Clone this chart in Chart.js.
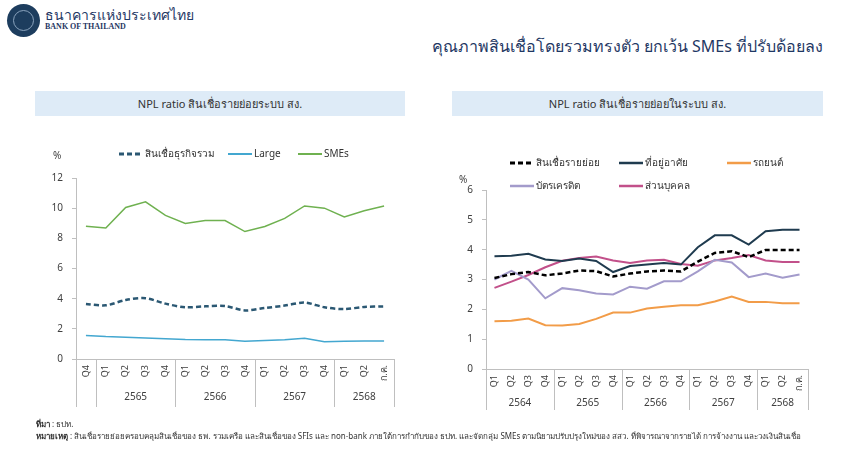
<!DOCTYPE html>
<html>
<head>
<meta charset="utf-8">
<script src="https://cdn.jsdelivr.net/npm/chart.js@4.4.1/dist/chart.umd.min.js"></script>
<style>
body { margin:0; width:860px; height:456px; background:#fff; position:relative; overflow:hidden; font-family:"Noto Sans","DejaVu Sans",sans-serif; color:#333; }
.logo { position:absolute; left:7px; top:4px; width:33px; height:33px; border-radius:50%; background:#1d3d5e; }
.logo div { position:absolute; left:6px; top:6px; width:19px; height:19px; border-radius:50%; border:1px solid #8aa3bd; }
.bot-th { position:absolute; left:45px; top:4px; font-size:14px; color:#1f3864; }
.bot-en { position:absolute; left:45px; top:22px; font-size:8px; font-weight:bold; color:#1f3864; font-family:"Liberation Serif",serif; }
.title { position:absolute; right:37px; top:34px; font-size:16px; color:#1f3864; }
.panel { position:absolute; top:91px; height:25px; line-height:25px; background:#deebf7; text-align:center; font-size:11px; color:#333; }
canvas { position:absolute; }
.note { position:absolute; left:36px; font-size:8px; color:#333; white-space:nowrap; }
</style>
</head>
<body>
<div class="logo"><div></div></div>
<div class="bot-th">ธนาคารแห่งประเทศไทย</div>
<div class="bot-en">BANK OF THAILAND</div>
<div class="title">คุณภาพสินเชื่อโดยรวมทรงตัว ยกเว้น SMEs ที่ปรับด้อยลง</div>
<div class="panel" style="left:35px;width:370px;">NPL ratio สินเชื่อรายย่อยระบบ สง.</div>
<div class="panel" style="left:452px;width:371px;">NPL ratio สินเชื่อรายย่อยในระบบ สง.</div>
<canvas id="leftChart" style="left:0;top:130px;"></canvas>
<canvas id="rightChart" style="left:430px;top:130px;"></canvas>
<div class="note" style="top:418px;"><b>ที่มา</b> : ธปท.</div>
<div class="note" style="top:430px;"><b>หมายเหตุ</b> : สินเชื่อรายย่อยครอบคลุมสินเชื่อของ ธพ. รวมเครือ และสินเชื่อของ SFIs และ non-bank ภายใต้การกำกับของ ธปท. และจัดกลุ่ม SMEs ตามนิยามปรับปรุงใหม่ของ สสว. ที่พิจารณาจากรายได้ การจ้างงาน และวงเงินสินเชื่อ</div>
<script>
// left chart: business loans
var leftQuarters = ['Q4','Q1','Q2','Q3','Q4','Q1','Q2','Q3','Q4','Q1','Q2','Q3','Q4','Q1','Q2','ก.ค.'];
var leftYears = ['','2565','2565','2565','2565','2566','2566','2566','2566','2567','2567','2567','2567','2568','2568','2568'];
var bizTotal = [3.65,3.56,3.91,4.03,3.67,3.43,3.49,3.51,3.22,3.38,3.54,3.74,3.43,3.31,3.45,3.49];
var bizLarge = [1.56,1.49,1.45,1.40,1.34,1.29,1.27,1.27,1.18,1.23,1.27,1.38,1.14,1.18,1.20,1.20];
var bizSME = [8.80,8.68,10.05,10.42,9.52,8.98,9.18,9.18,8.45,8.78,9.32,10.15,10.00,9.42,9.83,10.15];
var leftTicks = [0,2,4,6,8,10,12];

// right chart: retail loans
var rightQuarters = ['Q1','Q2','Q3','Q4','Q1','Q2','Q3','Q4','Q1','Q2','Q3','Q4','Q1','Q2','Q3','Q4','Q1','Q2','ก.ค.'];
var rightYears = ['2564','2564','2564','2564','2565','2565','2565','2565','2566','2566','2566','2566','2567','2567','2567','2567','2568','2568','2568'];
var retailTotal = [3.05,3.18,3.25,3.14,3.20,3.30,3.28,3.10,3.20,3.27,3.30,3.27,3.60,3.89,3.95,3.75,3.99,3.99,3.99];
var housing = [3.78,3.80,3.86,3.67,3.62,3.70,3.62,3.25,3.45,3.50,3.55,3.50,4.08,4.48,4.48,4.17,4.62,4.67,4.67];
var auto = [1.60,1.62,1.69,1.47,1.46,1.51,1.68,1.89,1.89,2.03,2.09,2.14,2.14,2.26,2.43,2.25,2.25,2.20,2.20];
var creditCard = [3.00,3.29,3.00,2.37,2.71,2.64,2.53,2.50,2.76,2.69,2.94,2.94,3.27,3.66,3.57,3.08,3.20,3.06,3.17];
var personal = [2.72,2.93,3.15,3.41,3.63,3.72,3.77,3.64,3.55,3.64,3.66,3.52,3.46,3.64,3.72,3.82,3.64,3.59,3.59];
var rightTicks = [0,1,2,3,4,5,6];

var FONT = '"Noto Sans","DejaVu Sans",sans-serif';
var GRID = '#bfbfbf';

// year rows under the quarter labels, plus the separators
var groupAxis = {
  id: 'groupAxis',
  afterDraw: function(chart, args, opts) {
    var ctx = chart.ctx, x = chart.scales.x, area = chart.chartArea;
    var years = opts.years;
    var half = (x.getPixelForValue(1) - x.getPixelForValue(0)) / 2;
    ctx.save();
    ctx.strokeStyle = GRID;
    ctx.lineWidth = 1;
    ctx.fillStyle = '#404040';
    ctx.font = '10px ' + FONT;
    ctx.textAlign = 'center';
    ctx.textBaseline = 'middle';
    var start = 0;
    for (var i = 1; i <= years.length; i++) {
      if (i === years.length || years[i] !== years[start]) {
        var l = x.getPixelForValue(start) - half;
        var r = x.getPixelForValue(i - 1) + half;
        ctx.beginPath();
        ctx.moveTo(Math.round(l) + 0.5, area.bottom);
        ctx.lineTo(Math.round(l) + 0.5, opts.lineEnd);
        ctx.moveTo(Math.round(r) + 0.5, area.bottom);
        ctx.lineTo(Math.round(r) + 0.5, opts.lineEnd);
        ctx.stroke();
        if (years[start]) ctx.fillText(years[start], (l + r) / 2, opts.textY);
        start = i;
      }
    }
    // unit label
    ctx.textAlign = 'left';
    ctx.fillText('%', opts.unit.x, opts.unit.y);
    ctx.restore();
  }
};

// legend with line samples placed like the original
var lineLegend = {
  id: 'lineLegend',
  afterDraw: function(chart, args, opts) {
    var ctx = chart.ctx;
    ctx.save();
    ctx.font = '10px ' + FONT;
    ctx.textBaseline = 'middle';
    ctx.fillStyle = '#333';
    chart.data.datasets.forEach(function(ds, i) {
      var p = opts.items[i];
      ctx.strokeStyle = ds.borderColor;
      ctx.lineWidth = ds.borderWidth + 0.5;
      ctx.setLineDash(ds.borderDash || []);
      ctx.beginPath();
      ctx.moveTo(p.x, p.y);
      ctx.lineTo(p.x + opts.len, p.y);
      ctx.stroke();
      ctx.fillText(ds.label, p.x + opts.len + 2, p.y);
    });
    ctx.restore();
  }
};

function lineSet(label, data, color, dash, width, tension) {
  return { label: label, data: data, borderColor: color, backgroundColor: color,
           borderWidth: width, borderDash: dash, pointRadius: 0, tension: tension, fill: false };
}

function axes(maxY, step, yWidth, xHeight) {
  return {
    x: {
      offset: true,
      grid: { display: false, drawTicks: false },
      border: { display: true, color: GRID },
      ticks: { autoSkip: false, minRotation: 90, maxRotation: 90, padding: 6, color: '#404040', font: { size: 9, family: FONT } },
      afterFit: function(s) { s.height = xHeight; }
    },
    y: {
      min: 0, max: maxY,
      grid: { drawOnChartArea: false, drawTicks: true, tickLength: 4, color: GRID },
      border: { display: true, color: GRID },
      ticks: { stepSize: step, padding: 9, color: '#404040', font: { size: 10, family: FONT } },
      afterFit: function(s) { s.width = yWidth; }
    }
  };
}

var leftCanvas = document.getElementById('leftChart');
leftCanvas.width = 430; leftCanvas.height = 290;
new Chart(leftCanvas.getContext('2d'), {
  type: 'line',
  data: {
    labels: leftQuarters,
    datasets: [
      lineSet('สินเชื่อธุรกิจรวม', bizTotal, '#2b5873', [5, 3], 2.5, 0.3),
      lineSet('Large', bizLarge, '#43a7d0', [], 1.5, 0),
      lineSet('SMEs', bizSME, '#6fb150', [], 1.5, 0)
    ]
  },
  options: {
    responsive: false, animation: false, events: [],
    layout: { padding: { left: 0, top: 48, right: 36, bottom: 0 } },
    scales: axes(leftTicks[leftTicks.length - 1], leftTicks[1] - leftTicks[0], 76, 61),
    plugins: {
      legend: { display: false }, tooltip: { enabled: false },
      groupAxis: { years: leftYears, lineEnd: 277, textY: 267, unit: { x: 53, y: 26 } },
      lineLegend: { len: 24, items: [{ x: 119, y: 24 }, { x: 228, y: 24 }, { x: 298, y: 24 }] }
    }
  },
  plugins: [groupAxis, lineLegend]
});

var rightCanvas = document.getElementById('rightChart');
rightCanvas.width = 430; rightCanvas.height = 290;
new Chart(rightCanvas.getContext('2d'), {
  type: 'line',
  data: {
    labels: rightQuarters,
    datasets: [
      lineSet('สินเชื่อรายย่อย', retailTotal, '#000000', [5, 3], 2.5, 0),
      lineSet('ที่อยู่อาศัย', housing, '#1f3b4f', [], 2, 0),
      lineSet('รถยนต์', auto, '#f29c48', [], 2, 0),
      lineSet('บัตรเครดิต', creditCard, '#a39bcb', [], 2, 0),
      lineSet('ส่วนบุคคล', personal, '#c2508a', [], 2, 0)
    ]
  },
  options: {
    responsive: false, animation: false, events: [],
    layout: { padding: { left: 0, top: 60, right: 52, bottom: 0 } },
    scales: axes(rightTicks[rightTicks.length - 1], rightTicks[1] - rightTicks[0], 56, 51),
    plugins: {
      legend: { display: false }, tooltip: { enabled: false },
      groupAxis: { years: rightYears, lineEnd: 280, textY: 273, unit: { x: 29, y: 50 } },
      lineLegend: { len: 24, items: [{ x: 80, y: 33 }, { x: 189, y: 33 }, { x: 297, y: 33 }, { x: 80, y: 56 }, { x: 189, y: 56 }] }
    }
  },
  plugins: [groupAxis, lineLegend]
});
</script>
</body>
</html>
